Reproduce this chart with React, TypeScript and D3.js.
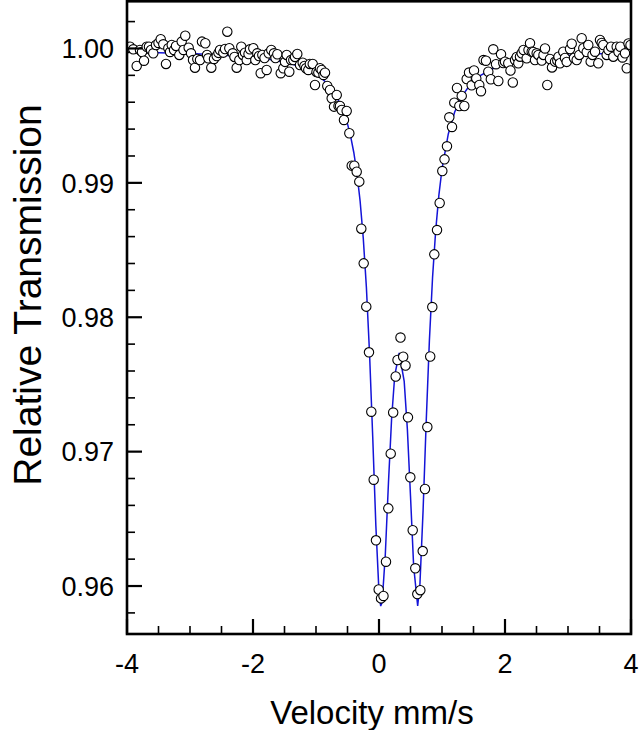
import React from 'react';
import * as d3 from 'd3';

// Observed Mössbauer spectrum: [velocity mm/s, relative transmission]
const observed: [number, number][] = [
  [-3.976, 1.00004], [-3.952, 1.00013], [-3.900, 0.99994], [-3.846, 0.99870], [-3.794, 0.99989],
  [-3.762, 0.99974], [-3.730, 0.99909], [-3.687, 1.00013], [-3.651, 1.00013], [-3.619, 0.99989],
  [-3.583, 0.99964], [-3.540, 1.00026], [-3.500, 1.00041], [-3.465, 1.00069], [-3.424, 1.00031],
  [-3.381, 0.99885], [-3.344, 1.00002], [-3.317, 0.99974], [-3.290, 1.00026], [-3.254, 0.99989],
  [-3.222, 1.00019], [-3.170, 0.99952], [-3.132, 1.00051], [-3.103, 0.99989], [-3.075, 1.00095],
  [-3.021, 1.00006], [-2.984, 0.99964], [-2.952, 0.99914], [-2.921, 0.99857], [-2.884, 0.99922],
  [-2.841, 0.99914], [-2.810, 1.00051], [-2.757, 1.00039], [-2.730, 0.99952], [-2.710, 0.99927],
  [-2.662, 0.99857], [-2.619, 0.99922], [-2.576, 0.99944], [-2.548, 0.99967], [-2.524, 0.99989],
  [-2.471, 0.99969], [-2.444, 0.99996], [-2.408, 1.00125], [-2.376, 1.00002], [-2.322, 0.99964],
  [-2.294, 0.99937], [-2.259, 0.99857], [-2.217, 0.99914], [-2.186, 1.00013], [-2.159, 0.99952],
  [-2.127, 0.99969], [-2.100, 0.99914], [-2.071, 0.99959], [-2.048, 0.99994], [-1.995, 1.00002],
  [-1.963, 0.99914], [-1.932, 0.99964], [-1.905, 0.99944], [-1.878, 0.99816], [-1.852, 0.99952],
  [-1.817, 0.99929], [-1.783, 0.99840], [-1.751, 0.99964], [-1.710, 0.99989], [-1.667, 0.99964],
  [-1.643, 0.99929], [-1.614, 0.99957], [-1.560, 0.99816], [-1.519, 0.99853], [-1.492, 0.99900],
  [-1.465, 0.99952], [-1.424, 0.99827], [-1.397, 0.99914], [-1.360, 0.99914], [-1.333, 0.99937],
  [-1.297, 0.99959], [-1.254, 0.99877], [-1.211, 0.99894], [-1.183, 0.99870], [-1.159, 0.99853],
  [-1.122, 0.99840], [-1.098, 0.99885], [-1.052, 0.99885], [-1.016, 0.99728], [-0.992, 0.99825],
  [-0.963, 0.99820], [-0.937, 0.99853], [-0.910, 0.99840], [-0.881, 0.99803], [-0.857, 0.99820],
  [-0.821, 0.99721], [-0.778, 0.99691], [-0.751, 0.99629], [-0.714, 0.99567], [-0.671, 0.99654],
  [-0.643, 0.99572], [-0.619, 0.99572], [-0.592, 0.99542], [-0.556, 0.99468], [-0.513, 0.99535],
  [-0.471, 0.99369], [-0.433, 0.99128], [-0.392, 0.99128], [-0.354, 0.99083], [-0.313, 0.99009],
  [-0.281, 0.98659], [-0.243, 0.98401], [-0.202, 0.98079], [-0.159, 0.97739], [-0.122, 0.97297],
  [-0.084, 0.96791], [-0.048, 0.96340], [-0.005, 0.95974], [0.032, 0.95908], [0.071, 0.95926],
  [0.111, 0.96181], [0.148, 0.96578], [0.186, 0.96985], [0.225, 0.97291], [0.265, 0.97559],
  [0.294, 0.97682], [0.341, 0.97849], [0.384, 0.97706], [0.421, 0.97641], [0.460, 0.97255],
  [0.497, 0.96809], [0.535, 0.96415], [0.576, 0.96132], [0.608, 0.95940], [0.656, 0.95969],
  [0.694, 0.96260], [0.730, 0.96722], [0.767, 0.97183], [0.813, 0.97708], [0.846, 0.98076],
  [0.878, 0.98468], [0.921, 0.98649], [0.963, 0.98850], [1.005, 0.99088], [1.040, 0.99175],
  [1.079, 0.99272], [1.116, 0.99488], [1.159, 0.99416], [1.195, 0.99597], [1.238, 0.99706],
  [1.275, 0.99572], [1.313, 0.99647], [1.354, 0.99572], [1.392, 0.99773], [1.429, 0.99821],
  [1.471, 0.99726], [1.508, 0.99836], [1.544, 0.99777], [1.592, 0.99728], [1.619, 0.99682],
  [1.659, 0.99914], [1.698, 0.99909], [1.735, 0.99827], [1.775, 0.99771], [1.814, 0.99994],
  [1.857, 0.99883], [1.894, 0.99758], [1.937, 0.99957], [1.973, 0.99892], [2.000, 0.99902],
  [2.052, 0.99890], [2.087, 0.99836], [2.124, 0.99747], [2.159, 0.99914], [2.186, 0.99937],
  [2.211, 0.99890], [2.238, 0.99939], [2.265, 0.99964], [2.294, 0.99989], [2.344, 0.99927],
  [2.373, 0.99989], [2.397, 1.00039], [2.424, 0.99976], [2.449, 0.99974], [2.476, 0.99914],
  [2.503, 0.99964], [2.529, 0.99952], [2.583, 0.99910], [2.611, 0.99952], [2.635, 1.00000],
  [2.671, 0.99728], [2.714, 0.99922], [2.746, 0.99859], [2.794, 0.99902], [2.830, 0.99910],
  [2.849, 0.99939], [2.873, 0.99890], [2.925, 0.99976], [2.952, 0.99929], [2.979, 0.99900],
  [3.032, 0.99996], [3.059, 1.00035], [3.095, 0.99929], [3.138, 0.99914], [3.179, 0.99952],
  [3.217, 1.00076], [3.243, 1.00002], [3.297, 0.99974], [3.322, 1.00026], [3.360, 0.99902],
  [3.389, 0.99952], [3.429, 0.99976], [3.481, 0.99890], [3.508, 1.00063], [3.535, 1.00041],
  [3.560, 1.00026], [3.614, 0.99952], [3.643, 0.99989], [3.683, 1.00013], [3.719, 0.99939],
  [3.773, 1.00013], [3.802, 0.99974], [3.830, 1.00013], [3.865, 0.99933], [3.905, 0.99964],
  [3.932, 0.99853], [3.960, 1.00037], [3.992, 1.00026],
];

// Fitted doublet curve, sampled: [velocity mm/s, relative transmission]
const fitted: [number, number][] = [
  [-4.0, 0.99973], [-3.5, 0.99969], [-3.0, 0.99962], [-2.5, 0.99952], [-2.0, 0.99934],
  [-1.75, 0.99920], [-1.5, 0.99899], [-1.25, 0.99866], [-1.0, 0.99809], [-0.9, 0.99774],
  [-0.8, 0.99728], [-0.7, 0.99665], [-0.6, 0.99574], [-0.5, 0.99439], [-0.45, 0.99346],
  [-0.4, 0.99226], [-0.35, 0.99071], [-0.3, 0.98866], [-0.25, 0.98591], [-0.2, 0.98221],
  [-0.15, 0.97730], [-0.1, 0.97114], [-0.05, 0.96450], [0.0, 0.95953], [0.027, 0.95851],
  [0.05, 0.95878], [0.1, 0.96233], [0.15, 0.96767], [0.2, 0.97245], [0.25, 0.97568],
  [0.3205, 0.97734], [0.4, 0.97523], [0.45, 0.97169], [0.5, 0.96670], [0.55, 0.96147],
  [0.614, 0.95851], [0.65, 0.96017], [0.7, 0.96565], [0.75, 0.97232], [0.8, 0.97828],
  [0.85, 0.98296], [0.9, 0.98646], [0.95, 0.98907], [1.0, 0.99102], [1.1, 0.99364],
  [1.2, 0.99526], [1.3, 0.99632], [1.45, 0.99733], [1.6, 0.99796], [1.8, 0.99849],
  [2.1, 0.99894], [2.5, 0.99927], [3.0, 0.99948], [3.5, 0.99960], [4.0, 0.99967],
];

const xMajorTicks = [-4, -2, 0, 2, 4];
const xMajorLabels = ['-4', '-2', '0', '2', '4'];
const xMinorTicks = [-3.5, -3, -2.5, -1.5, -1, -0.5, 0.5, 1, 1.5, 2.5, 3, 3.5];
const yMajorTicks = [0.96, 0.97, 0.98, 0.99, 1.0];
const yMajorLabels = ['0.96', '0.97', '0.98', '0.99', '1.00'];
const yMinorTicks = [
  0.958, 0.962, 0.964, 0.966, 0.968, 0.972, 0.974, 0.976, 0.978,
  0.982, 0.984, 0.986, 0.988, 0.992, 0.994, 0.996, 0.998, 1.002,
];

const W = 640;
const H = 730;
const PL = 127;
const PR = 631;
const PT = 1.3;
const PB = 634;
const FONT = '"Liberation Sans", Arial, Helvetica, sans-serif';

export default function App() {
  const x = d3.scaleLinear().domain([-4, 4]).range([PL, PR]);
  const y = d3.scaleLinear().domain([0.95643, 1.00351]).range([PB, PT]);
  const line = d3
    .line<[number, number]>()
    .x((d) => x(d[0]))
    .y((d) => y(d[1]));

  return (
    <svg
      width={W}
      height={H}
      viewBox={`0 0 ${W} ${H}`}
      style={{ position: 'absolute', left: 0, top: 0, background: '#fff' }}
      fontFamily={FONT}
    >
      <defs>
        <clipPath id="plot">
          <rect x={PL} y={PT} width={PR - PL} height={PB - PT} />
        </clipPath>
      </defs>
      <g clipPath="url(#plot)">
        <path d={line(fitted) || ''} fill="none" stroke="#1414d8" strokeWidth={1.5} />
        {observed.map((d, i) => (
          <circle
            key={i}
            cx={x(d[0])}
            cy={y(d[1])}
            r={4.7}
            fill="#fff"
            stroke="#000"
            strokeWidth={1.1}
          />
        ))}
      </g>
      {xMajorTicks.map((t) => (
        <line key={'xM' + t} x1={x(t)} x2={x(t)} y1={PB} y2={PB - 15} stroke="#000" strokeWidth={2.2} />
      ))}
      {xMinorTicks.map((t) => (
        <line key={'xm' + t} x1={x(t)} x2={x(t)} y1={PB} y2={PB - 8} stroke="#000" strokeWidth={1.6} />
      ))}
      {yMajorTicks.map((t) => (
        <line key={'yM' + t} x1={PL} x2={PL + 15} y1={y(t)} y2={y(t)} stroke="#000" strokeWidth={2.2} />
      ))}
      {yMinorTicks.map((t) => (
        <line key={'ym' + t} x1={PL} x2={PL + 8} y1={y(t)} y2={y(t)} stroke="#000" strokeWidth={1.6} />
      ))}
      <rect x={PL} y={PT} width={PR - PL} height={PB - PT} fill="none" stroke="#000" strokeWidth={2.6} />
      {xMajorTicks.map((t, i) => (
        <text key={'xl' + t} x={x(t)} y={673} fontSize={27} textAnchor="middle" fill="#000">
          {xMajorLabels[i]}
        </text>
      ))}
      {yMajorTicks.map((t, i) => (
        <text key={'yl' + t} x={114} y={y(t)} dy="0.36em" fontSize={27} textAnchor="end" fill="#000">
          {yMajorLabels[i]}
        </text>
      ))}
      <text x={372} y={724} fontSize={33} textAnchor="middle" fill="#000">
        Velocity mm/s
      </text>
      <text
        transform={`translate(41, 295) rotate(-90)`}
        fontSize={39}
        textAnchor="middle"
        fill="#000"
      >
        Relative Transmission
      </text>
    </svg>
  );
}
